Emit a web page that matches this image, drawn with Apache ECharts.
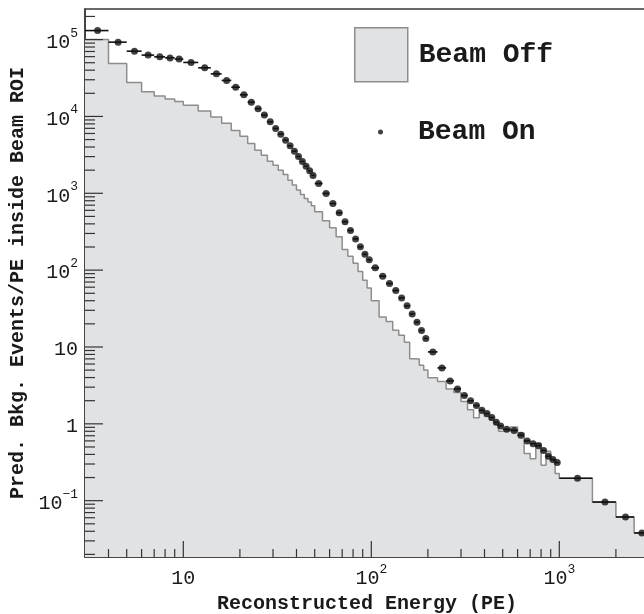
<!DOCTYPE html>
<html>
<head>
<meta charset="utf-8">
<script src="https://cdn.jsdelivr.net/npm/echarts@6/dist/echarts.min.js"></script>
<style>
html, body { margin: 0; padding: 0; background: #ffffff; }
#chart { width: 644px; height: 614px; }
</style>
</head>
<body>
<div id="chart"></div>
<script>
// Bin edges (PE) shared by both samples
const binEdges = [3, 4, 5, 6, 7, 8, 9, 10,
  12, 14, 16, 18, 20, 22, 24, 26, 28, 30, 32, 34, 36, 38, 40, 42, 44, 46, 48, 50,
  55, 60, 65, 70, 75, 80, 85, 90, 95, 100,
  110, 120, 130, 140, 150, 160, 170, 180, 190, 200,
  225, 250, 275, 300, 325, 350, 375, 400, 425, 450, 475, 500,
  550, 600, 650, 700, 750, 800, 850, 900, 950, 1000,
  1500, 2000, 2500, 3000];

// Beam Off: predicted background rate per PE in each bin
const beamOffRate = [100000, 48900, 27700, 20900, 18500, 16800, 15700,
  14000, 11800, 9800, 8180, 6580, 5530, 4450, 3640, 3130, 2620, 2320, 2000, 1760, 1480, 1280, 1100, 966, 857, 773, 690,
  573, 440, 357, 271, 186, 152, 123, 96, 74, 58.5,
  40, 24.6, 21.4, 16.5, 14.2, 11.5, 7.05, 7.0, 5.8, 5.0,
  3.97, 3.55, 2.83, 2.55, 1.95, 1.52, 1.2, 1.38, 1.25, 1.12, 0.99, 0.80,
  0.81, 0.91, 0.76, 0.41, 0.35, 0.56, 0.29, 0.44, 0.34, 0.225,
  0.196, 0.096, 0.0614, 0.038];

// Beam On: measured rate per PE in each bin
const beamOnRate = [131000, 92600, 70700, 62800, 59600, 57800, 55700,
  50400, 42900, 35800, 29400, 24000, 19100, 15300, 12600, 10400, 8500, 6980, 5880, 4910, 4140, 3530, 3010, 2590, 2250, 1960, 1710,
  1340, 995, 737, 556, 425, 328, 255, 201, 161, 136,
  107, 83.4, 67, 54.3, 43.5, 34.3, 26.9, 21.0, 16.4, 12.9,
  8.63, 5.34, 3.62, 2.85, 2.34, 1.99, 1.73, 1.50, 1.36, 1.21, 1.05, 0.94,
  0.85, 0.82, 0.71, 0.60, 0.55, 0.52, 0.45, 0.38, 0.343, 0.313,
  0.196, 0.096, 0.0614, 0.038];

// Labelled decades on each axis
const xMajorTicks = [10, 100, 1000];
const yMajorTicks = [0.1, 1, 10, 100, 1000, 10000, 100000];

const X_MIN = 3, X_MAX = 3000, Y_MIN = 0.0185, Y_MAX = 2.5e5;
const FONT = 'Liberation Mono';
const INK = '#1a1a1a';

// Minor ticks at 2..9 times each decade, inside the axis range
function minorTicks(lo, hi, kFrom, kTo) {
  const out = [];
  for (let k = kFrom; k <= kTo; k++) {
    for (let m = 2; m <= 9; m++) {
      const v = Number((m * Math.pow(10, k)).toPrecision(6));
      if (v > lo && v < hi) out.push(v);
    }
  }
  return out;
}
const xMinorTicks = minorTicks(X_MIN, X_MAX, 0, 3);
const yMinorTicks = minorTicks(Y_MIN, Y_MAX, -2, 5);

// Step outline of the Beam Off histogram
const offOutline = [];
beamOffRate.forEach((v, i) => {
  offOutline.push([binEdges[i], v], [binEdges[i + 1], v]);
});

// Beam On points at bin centres, with the bin range for the horizontal bar
const onPoints = beamOnRate.map((v, i) => [
  (binEdges[i] + binEdges[i + 1]) / 2, v, binEdges[i], binEdges[i + 1]
]);

function powLabel(v) {
  const lg = Math.log10(v);
  const e = Math.round(lg);
  if (Math.abs(lg - e) > 1e-6) return '';
  if (e === 0) return '{b|1}';
  if (e === 1) return '{b|10}';
  return '{b|10}{sup|' + (e < 0 ? '\u2212' + (-e) : e) + '}';
}

const labelRich = {
  b: { fontFamily: FONT, fontSize: 20, color: INK, lineHeight: 26, verticalAlign: 'bottom' },
  sup: { fontFamily: FONT, fontSize: 13, color: INK, lineHeight: 13, verticalAlign: 'top' }
};

// Tick marks drawn inward from the bottom or left axis through the axis scales
function tickSeries(values, dir, len) {
  return {
    type: 'custom',
    silent: true,
    clip: false,
    z: 6,
    data: values.map(v => dir === 'x' ? [v, Y_MIN] : [X_MIN, v]),
    renderItem: (params, api) => {
      const p = api.coord([api.value(0), api.value(1)]);
      const shape = dir === 'x'
        ? { x1: p[0], y1: p[1], x2: p[0], y2: p[1] - len }
        : { x1: p[0], y1: p[1], x2: p[0] + len, y2: p[1] };
      return { type: 'line', shape: shape, style: { stroke: '#333', lineWidth: 1.2 } };
    }
  };
}

const chart = echarts.init(document.getElementById('chart'), null, { renderer: 'canvas' });

chart.setOption({
  animation: false,
  backgroundColor: '#ffffff',
  grid: {
    left: 85, top: 9, width: 564, height: 548,
    outerBoundsMode: 'none', containLabel: false,
    show: true, borderColor: '#3a3a3a', borderWidth: 1.5, backgroundColor: 'transparent'
  },
  legend: [
    {
      data: [{ name: 'Beam Off', icon: 'rect',
        itemStyle: { color: '#e1e2e4', borderColor: '#8d8d8d', borderWidth: 1.5 } }],
      left: 354, top: 27, padding: 0,
      itemWidth: 53, itemHeight: 54,
      selectedMode: false,
      textStyle: { fontFamily: FONT, fontSize: 28, fontWeight: 'bold', color: INK, padding: [0, 0, 0, 6] }
    },
    {
      data: [{ name: 'Beam On', icon: 'circle', itemStyle: { color: '#111111' } }],
      left: 378, top: 116, padding: 0,
      itemWidth: 5, itemHeight: 5,
      selectedMode: false,
      textStyle: { fontFamily: FONT, fontSize: 28, fontWeight: 'bold', color: INK,
        lineHeight: 32, padding: [0, 0, 0, 30] }
    }
  ],
  xAxis: {
    type: 'log', logBase: 10, min: X_MIN, max: X_MAX,
    name: 'Reconstructed Energy (PE)', nameLocation: 'middle', nameGap: 33,
    nameTextStyle: { fontFamily: FONT, fontSize: 20, fontWeight: 'bold', color: INK },
    axisLine: { show: true, lineStyle: { color: '#3a3a3a', width: 1.5 } },
    axisTick: { show: false },
    splitLine: { show: false },
    axisLabel: { margin: 6, formatter: powLabel, rich: labelRich }
  },
  yAxis: {
    type: 'log', logBase: 10, min: Y_MIN, max: Y_MAX, splitNumber: 10,
    name: 'Pred. Bkg. Events/PE inside Beam ROI', nameLocation: 'middle', nameGap: 52, nameRotate: 90,
    nameTextStyle: { fontFamily: FONT, fontSize: 20, fontWeight: 'bold', color: INK },
    axisLine: { show: true, lineStyle: { color: '#3a3a3a', width: 1.5 } },
    axisTick: { show: false },
    splitLine: { show: false },
    axisLabel: { margin: 7, formatter: powLabel, rich: labelRich }
  },
  series: [
    {
      name: 'Beam Off',
      type: 'line',
      data: offOutline,
      symbol: 'none',
      z: 2,
      lineStyle: { color: '#8d8d8d', width: 1.5 },
      itemStyle: { color: '#e1e2e4' },
      areaStyle: { color: '#e1e2e4', opacity: 1, origin: 'start' }
    },
    {
      name: 'Beam On bins',
      type: 'custom',
      silent: true,
      z: 3,
      data: onPoints,
      encode: { x: 0, y: 1 },
      renderItem: (params, api) => {
        const a = api.coord([api.value(2), api.value(1)]);
        const b = api.coord([api.value(3), api.value(1)]);
        return { type: 'line', shape: { x1: a[0], y1: a[1], x2: b[0], y2: b[1] },
          style: { stroke: '#111111', lineWidth: 1.6 } };
      }
    },
    {
      name: 'Beam On',
      type: 'scatter',
      data: onPoints.map(p => [p[0], p[1]]),
      symbol: 'circle',
      symbolSize: 7,
      z: 4,
      itemStyle: { color: '#111111' }
    },
    tickSeries(xMajorTicks, 'x', 16),
    tickSeries(xMinorTicks, 'x', 8),
    tickSeries(yMajorTicks, 'y', 18),
    tickSeries(yMinorTicks, 'y', 10)
  ]
});
</script>
</body>
</html>
